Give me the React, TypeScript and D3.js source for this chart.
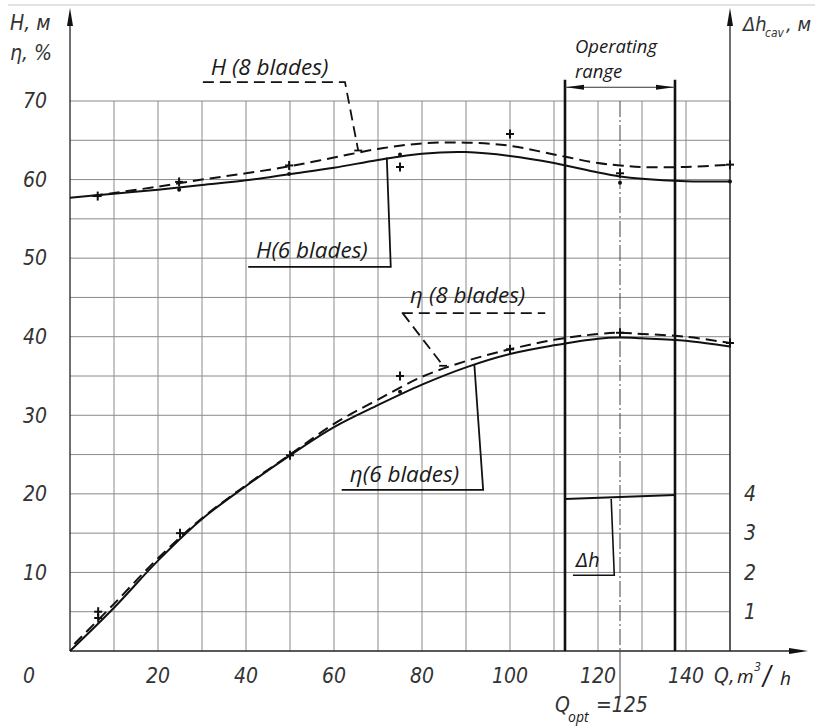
import React from "react";
import * as d3 from "d3";

// ---- data ----
const Q_H6 = [0, 10, 20, 30, 40, 50, 60, 70, 80, 90, 100, 110, 120, 125, 130, 140, 150];
const H6 = [57.7, 58.2, 58.7, 59.3, 59.9, 60.7, 61.5, 62.5, 63.3, 63.5, 63.0, 62.1, 60.9, 60.4, 60.1, 59.8, 59.75];
const Q_H8 = [5, 10, 20, 30, 40, 50, 60, 70, 80, 90, 100, 110, 120, 125, 130, 140, 150];
const H8 = [57.9, 58.3, 59.1, 60.0, 60.8, 61.7, 62.8, 63.9, 64.6, 64.7, 64.3, 63.2, 62.1, 61.8, 61.6, 61.6, 61.9];
const Q_E6 = [0, 10, 20, 30, 40, 50, 60, 70, 80, 90, 100, 110, 120, 125, 130, 140, 150];
const ETA6 = [0, 5.5, 11.5, 16.8, 21.0, 24.9, 28.5, 31.3, 33.9, 36.1, 37.8, 38.9, 39.75, 39.9, 39.8, 39.5, 38.75];
const Q_E8 = [1, 10, 20, 30, 40, 50, 60, 70, 80, 90, 100, 110, 120, 125, 130, 140, 150];
const ETA8 = [0.9, 6.0, 11.8, 16.9, 21.1, 25.0, 28.9, 32.0, 34.9, 36.9, 38.4, 39.6, 40.35, 40.5, 40.35, 40.0, 39.2];

const H_POINTS: [number, number][] = [[6.3, 57.9], [24.8, 59.7], [49.8, 61.8], [75, 61.6], [100, 65.8], [125, 60.8], [150, 61.9]];
const H_DOTS: [number, number][] = [[24.8, 58.7], [49.8, 60.7], [75, 63.2], [125, 59.6], [150, 59.75]];
const ETA_POINTS: [number, number][] = [[6.4, 5.0], [6.4, 4.2], [25, 15.0], [50, 24.9], [75, 35.0], [100, 38.4], [125, 40.5], [150, 39.2]];
const ETA_DOTS: [number, number][] = [[75, 33.0]];

const Q_DH = [112.5, 137.5];
const DH = [3.87, 3.97];

const X_TICKS = [20, 40, 60, 80, 100, 120, 140];
const Y_TICKS = [10, 20, 30, 40, 50, 60, 70];
const R_TICKS = [1, 2, 3, 4];
const Q_RANGE = [112.5, 137.5];
const Q_OPT = 125;

const W = 815, H = 726;
const x = d3.scaleLinear().domain([0, 150]).range([70, 730]);
const y = d3.scaleLinear().domain([0, 70]).range([651, 101]);
const yR = d3.scaleLinear().domain([0, 4]).range([651, 651 - 4 * 5 * (550 / 70)]);

const GOST = "'Liberation Sans Narrow', 'DejaVu Sans Condensed', 'Roboto Condensed', sans-serif";
const TXT = "'Open Sans', 'Noto Sans', sans-serif";

const line = (qs: number[], vs: number[]) =>
  d3.line<number>().x((_, i) => x(qs[i])).y((v) => y(v)).curve(d3.curveCatmullRom.alpha(0.5))(vs) || "";

const Plus = ({ q, v }: { q: number; v: number }) => {
  const cx = x(q), cy = y(v);
  return (
    <g stroke="#111" strokeWidth={2}>
      <line x1={cx - 4} x2={cx + 4} y1={cy} y2={cy} />
      <line x1={cx} x2={cx} y1={cy - 4.5} y2={cy + 4.5} />
    </g>
  );
};

export default function App() {
  const gridX = d3.range(10, 151, 10);
  const gridY = d3.range(5, 71, 5);
  const ink = "#1a1a1a";
  const aY = y(71.75);
  return (
    <svg width={W} height={H} style={{ position: "absolute", left: 0, top: 0, background: "#fff" }}>
      <rect width={W} height={H} fill="#fff" />
      <line x1={8} x2={W} y1={5} y2={5} stroke="#c8c8c8" strokeWidth={1.2} />
      {/* grid */}
      <g stroke="#8a8a8a" strokeWidth={1}>
        {gridX.map((q) => (
          <line key={"gx" + q} x1={x(q)} x2={x(q)} y1={y(0)} y2={y(70)} />
        ))}
        {gridY.map((v) => (
          <line key={"gy" + v} x1={x(0)} x2={x(150)} y1={y(v)} y2={y(v)} />
        ))}
      </g>
      {/* axes */}
      <g stroke="#222" strokeWidth={1.3}>
        <line x1={x(0)} x2={x(0)} y1={y(0)} y2={14} />
        <line x1={x(150)} x2={x(150)} y1={y(0)} y2={14} />
        <line x1={x(0)} x2={800} y1={y(0)} y2={y(0)} />
      </g>
      <g fill="#111">
        <polygon points={`${x(0)},8 ${x(0) - 3},26 ${x(0) + 3},26`} />
        <polygon points={`${x(150)},8 ${x(150) - 3},26 ${x(150) + 3},26`} />
        <polygon points={`808,${y(0)} 789,${y(0) - 3} 789,${y(0) + 3}`} />
      </g>
      {/* operating range */}
      <g stroke="#111" strokeWidth={2.6}>
        {Q_RANGE.map((q) => (
          <line key={"or" + q} x1={x(q)} x2={x(q)} y1={y(0)} y2={y(72.7)} />
        ))}
      </g>
      <line x1={x(Q_RANGE[0])} x2={x(Q_RANGE[1])} y1={aY} y2={aY} stroke="#333" strokeWidth={1} />
      <g fill="#111">
        <polygon points={`${x(Q_RANGE[0]) + 1},${aY} ${x(Q_RANGE[0]) + 19},${aY - 2.5} ${x(Q_RANGE[0]) + 19},${aY + 2.5}`} />
        <polygon points={`${x(Q_RANGE[1]) - 1},${aY} ${x(Q_RANGE[1]) - 19},${aY - 2.5} ${x(Q_RANGE[1]) - 19},${aY + 2.5}`} />
      </g>
      <text x={x(Q_RANGE[0]) + 10} y={53} fontFamily={TXT} fontStyle="italic" fontSize={18.5} fill={ink}>Operating</text>
      <text x={x(Q_RANGE[0]) + 10} y={78} fontFamily={TXT} fontStyle="italic" fontSize={18.5} fill={ink}>range</text>
      {/* Q opt dash-dot */}
      <line x1={x(Q_OPT)} x2={x(Q_OPT)} y1={y(70)} y2={y(0)} stroke="#444" strokeWidth={1} strokeDasharray="16,3,2,3" />
      <line x1={x(Q_OPT)} x2={x(Q_OPT)} y1={y(0)} y2={697} stroke="#444" strokeWidth={1} />
      {/* curves */}
      <g fill="none" stroke="#111" strokeWidth={2}>
        <path d={line(Q_H6, H6)} />
        <path d={line(Q_H8, H8)} strokeDasharray="11,6" />
        <path d={line(Q_E6, ETA6)} />
        <path d={line(Q_E8, ETA8)} strokeDasharray="11,6" />
      </g>
      {/* test points */}
      {[...H_POINTS, ...ETA_POINTS].map(([q, v], i) => (
        <Plus key={"p" + i} q={q} v={v} />
      ))}
      {[...H_DOTS, ...ETA_DOTS].map(([q, v], i) => (
        <circle key={"d" + i} cx={x(q)} cy={y(v)} r={2} fill="#111" />
      ))}
      {/* delta h */}
      <line x1={x(Q_DH[0])} x2={x(Q_DH[1])} y1={yR(DH[0])} y2={yR(DH[1])} stroke="#111" strokeWidth={2} />
      <polyline
        points={`${x(123)},${yR(3.87)} ${x(123.7)},${yR(1.93)} ${x(114.3)},${yR(1.93)}`}
        fill="none" stroke="#111" strokeWidth={1.6}
      />
      <text x={x(115)} y={yR(2.14)} fontFamily={GOST} fontStyle="italic" fontSize={20} fill={ink}>Δh</text>
      {/* leaders & labels */}
      <g fill="none" stroke="#111" strokeWidth={1.8}>
        <polyline points={`${x(30.2)},${y(72.4)} ${x(62.5)},${y(72.4)} ${x(65.5)},${y(63.7)}`} strokeDasharray="11,6" />
        <line x1={x(64.6)} x2={x(66.4)} y1={y(63.7)} y2={y(63.7)} />
        <polyline points={`${x(40.5)},${y(48.9)} ${x(72.9)},${y(48.9)} ${x(72.0)},${y(62.8)}`} />
        <polyline points={`${x(75.4)},${y(43.0)} ${x(108)},${y(43.0)}`} strokeDasharray="11,6" />
        <polyline points={`${x(75.6)},${y(43.0)} ${x(84.8)},${y(36.3)}`} strokeDasharray="11,6" />
        <line x1={x(83.9)} x2={x(85.7)} y1={y(36.3)} y2={y(36.3)} />
        <polyline points={`${x(61.75)},${y(20.5)} ${x(93.9)},${y(20.5)} ${x(91.9)},${y(36.4)}`} />
      </g>
      <g fontFamily={TXT} fontStyle="italic" fontSize={22.5} fill={ink}>
        <text x={x(32)} y={y(73.3)}>H (8 blades)</text>
        <text x={x(42.3)} y={y(50.0)}>H(6 blades)</text>
        <text x={x(77.3)} y={y(44.3)}>η (8 blades)</text>
        <text x={x(63.6)} y={y(21.55)}>η(6 blades)</text>
      </g>
      {/* tick labels */}
      <g fontFamily={GOST} fontStyle="italic" fontSize={21} fill="#333">
        {Y_TICKS.map((v) => (
          <text key={"yt" + v} x={x(0) - 35} y={y(v)} dy="0.35em" textAnchor="middle">{v}</text>
        ))}
        {X_TICKS.map((q) => (
          <text key={"xt" + q} x={x(q)} y={683} textAnchor="middle">{q}</text>
        ))}
        <text x={x(0) - 41} y={683} textAnchor="middle">0</text>
        {R_TICKS.map((v) => (
          <text key={"rt" + v} x={x(150) + 20} y={yR(v)} dy="0.35em" textAnchor="middle">{v}</text>
        ))}
      </g>
      {/* Q axis title */}
      <text y={683} fill={ink} fontStyle="italic">
        <tspan x={714} fontFamily={GOST} fontSize={21} fill="#333">Q,</tspan>
        <tspan x={737} fontFamily={TXT} fontSize={19}>m</tspan>
        <tspan x={754} dy={-12} fontFamily={TXT} fontSize={12}>3</tspan>
        <tspan x={763} dy={14} fontFamily={GOST} fontSize={26}>/</tspan>
        <tspan x={780} dy={0} fontFamily={TXT} fontSize={19}>h</tspan>
      </text>
      {/* Q opt label */}
      <text y={712} fill="#333" fontStyle="italic" fontFamily={GOST}>
        <tspan x={555} fontSize={21}>Q</tspan>
        <tspan x={568} dy={10} fontFamily={TXT} fontSize={14} fill={ink}>opt</tspan>
        <tspan x={596} dy={-10} fontSize={21}>=125</tspan>
      </text>
      {/* axis titles */}
      <g fontFamily={GOST} fontStyle="italic" fontSize={21} fill="#333">
        <text x={10} y={30}>H, м</text>
        <text x={10} y={60}>η, %</text>
      </g>
      <text y={31} fontFamily={GOST} fontStyle="italic" fill="#333">
        <tspan x={743} fontSize={20}>Δh</tspan>
        <tspan x={765} dy={6} fontSize={12}>cav</tspan>
        <tspan x={786} dy={-6} fontSize={20}>, м</tspan>
      </text>
    </svg>
  );
}
